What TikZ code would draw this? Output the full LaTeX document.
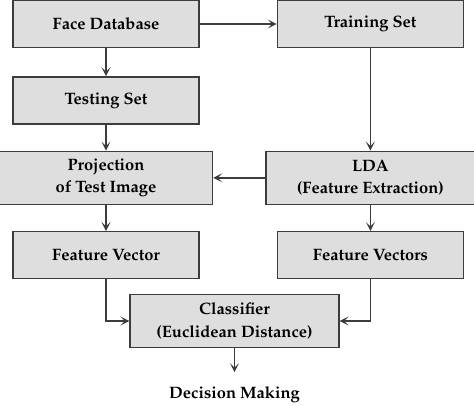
\documentclass[tikz,border=0pt]{standalone}
\usepackage[T1]{fontenc}
\usepackage{mathpazo}
\usetikzlibrary{positioning,arrows.meta}
\definecolor{boxgray}{RGB}{222,222,222}
\definecolor{linegray}{RGB}{60,60,60}

\begin{document}
\begin{tikzpicture}[x=1pt, y=-1pt,
      box/.style={draw=linegray, fill=boxgray, line width=1.4pt, align=center,
                  font=\fontsize{16.5}{22.5}\selectfont\bfseries,
                  minimum width=186pt, minimum height=47pt, inner sep=2pt},
      tall/.style={minimum height=53pt},
      arr/.style={-{Stealth[length=9pt, width=9pt, inset=4.5pt]}, line width=1.4pt, draw=linegray}]
    \useasboundingbox (0,0) rectangle (474,405);
    \node[box] (face) at (106,24) {Face Database};
    \node[box, below=28pt of face] (test) {Testing Set};
    \node[box, right=77pt of face] (train) {Training Set};
    \node[box, tall, minimum width=213pt, below=26pt of test] (proj) {Projection\\of Test Image};
    \node[box, tall, minimum width=209pt] (lda) at (proj -| train) {LDA\\(Feature Extraction)};
    \node[box, below=26pt of proj] (fv) {Feature Vector};
    \node[box, below=26pt of lda] (fvs) {Feature Vectors};
    \node[box, tall, minimum width=209pt] (cls) at (234.5,321) {Classifier\\(Euclidean Distance)};
    \node[font=\fontsize{16.5}{22.5}\selectfont\bfseries, inner sep=0pt, below=38pt of cls] (dec) {Decision Making};
    \draw[arr] (face) -- (train);
    \draw[arr] (face) -- (test);
    \draw[arr] (test) -- (proj);
    \draw[arr] (train.south) -- (train.south |- lda.north);
    \draw[arr] (lda) -- (proj);
    \draw[arr] (proj) -- (fv);
    \draw[arr] (lda.south) -- (lda.south |- fvs.north);
    \draw[arr] (fv.south) |- (cls.west);
    \draw[arr] (fvs.south) |- (cls.east);
    \draw[arr, shorten >=14pt] (cls) -- (dec);
  \end{tikzpicture}
\end{document}
